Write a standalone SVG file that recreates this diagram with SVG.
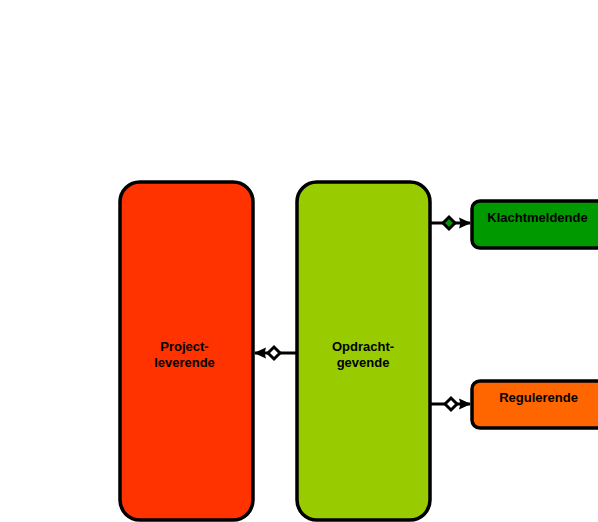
<svg xmlns="http://www.w3.org/2000/svg" width="598" height="522" viewBox="0 0 598 522">
<style>
.node{stroke:#000;stroke-width:3.5}
.lbl{font-family:"Liberation Sans",Arial,sans-serif;font-weight:bold;font-size:13px;text-anchor:middle;fill:#000}
.conn{stroke:#000;stroke-width:3;fill:none}
.dia{stroke:#000;stroke-width:3}
</style>
<defs>
<marker id="arr" viewBox="0 0 12 12" refX="11" refY="6" markerWidth="12" markerHeight="12" markerUnits="userSpaceOnUse" orient="auto">
<path d="M0,0.5 L12,6 L0,11.5 L1.5,6 Z" fill="#000"/>
</marker>
</defs>
<rect width="598" height="522" fill="#fff"/>
<g id="project-leverende">
<rect class="node" x="120" y="182" width="133" height="338" rx="20" fill="#FF3300"/>
<text class="lbl" x="184.5" y="351">Project-</text>
<text class="lbl" x="184.5" y="367">leverende</text>
</g>
<g id="opdrachtgevende">
<rect class="node" x="297" y="182" width="133" height="338" rx="20" fill="#99CC00"/>
<text class="lbl" x="363" y="351">Opdracht-</text>
<text class="lbl" x="363" y="367">gevende</text>
</g>
<g id="klachtmeldende">
<rect class="node" x="472" y="201" width="140" height="47" rx="8" fill="#009900"/>
<text class="lbl" x="537.5" y="222">Klachtmeldende</text>
</g>
<g id="regulerende">
<rect class="node" x="472" y="381" width="140" height="47" rx="8" fill="#FF6600"/>
<text class="lbl" x="538.5" y="402">Regulerende</text>
</g>
<g id="connectors">
<path class="conn" d="M296,353 L255,353" marker-end="url(#arr)"/>
<path class="dia" d="M268,353 L274,347 L280,353 L274,359 Z" fill="#fff"/>
<path class="conn" d="M430,223 L470,223" marker-end="url(#arr)"/>
<path class="dia" d="M443,223 L449,217 L455,223 L449,229 Z" fill="#009900"/>
<path class="conn" d="M430,404 L470,404" marker-end="url(#arr)"/>
<path class="dia" d="M445,404 L451,398 L457,404 L451,410 Z" fill="#fff"/>
</g>
</svg>
